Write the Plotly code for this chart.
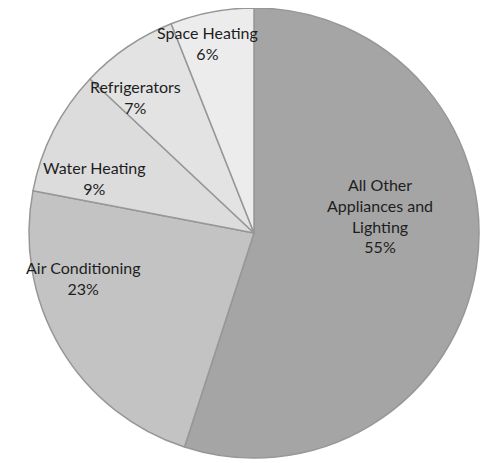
import plotly.graph_objects as go

categories = ["All Other Appliances and Lighting", "Air Conditioning", "Water Heating",
              "Refrigerators", "Space Heating"]
values = [55, 23, 9, 7, 6]
label_lines = [["All Other", "Appliances and", "Lighting"], ["Air Conditioning"],
               ["Water Heating"], ["Refrigerators"], ["Space Heating"]]
colors = ["#a5a5a5", "#c3c3c3", "#dcdcdc", "#e3e3e3", "#ececec"]

# label block centres in pixels (page coordinates)
label_px = [(380, 215), (83, 278), (94, 178), (135, 97), (207, 43)]

W, H = 496, 463
OFF = 8  # default page body margin
R = 225
cx, cy = 254 - OFF, 233 - OFF


def clamp(v):
    return max(0.0, min(1.0, v))


fig = go.Figure(go.Pie(
    labels=categories,
    values=values,
    sort=False,
    direction="clockwise",
    rotation=0,
    marker=dict(colors=colors, line=dict(color="#979797", width=1.5)),
    textinfo="none",
    hoverinfo="label+percent",
    showlegend=False,
    domain=dict(x=[clamp((cx - R) / W), clamp((cx + R) / W)],
                y=[clamp((H - cy - R) / H), clamp((H - cy + R) / H)]),
))

total = sum(values)
for lines, v, (px, py) in zip(label_lines, values, label_px):
    txt = "<br>".join(lines + [f"{round(100 * v / total)}%"])
    fig.add_annotation(x=(px - OFF) / W, y=1 - (py - OFF) / H, xref="paper", yref="paper",
                       text=txt, showarrow=False, xanchor="center", yanchor="middle",
                       font=dict(family="Lato", size=16, color="#1e1e1e"), align="center")

fig.update_layout(width=W, height=H, margin=dict(l=0, r=0, t=0, b=0),
                  paper_bgcolor="white", plot_bgcolor="white")
fig.write_html("out.html")
